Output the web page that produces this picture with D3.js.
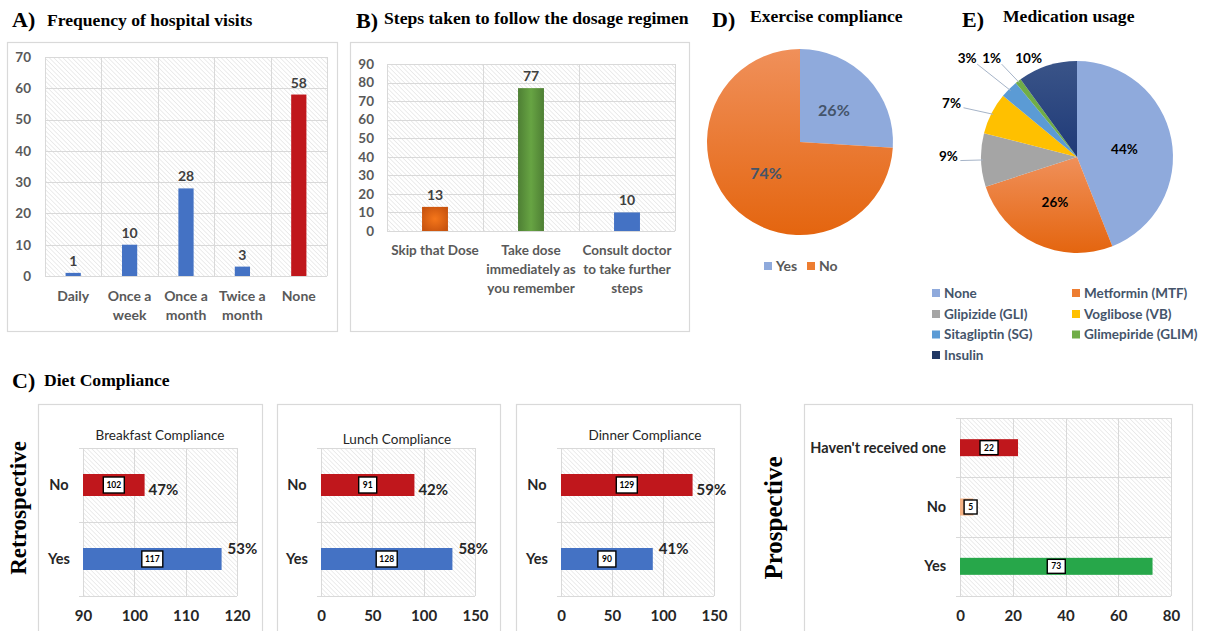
<!DOCTYPE html>
<html><head><meta charset="utf-8">
<script src="https://cdn.jsdelivr.net/npm/d3@7"></script>
<style>
html,body{margin:0;padding:0;background:#fff;}
svg{display:block;}
</style></head>
<body>
<svg id="chart" width="1211" height="631"></svg>
<script>
// ---------------- DATA ----------------
const visitCats = ["Daily", "Once a\nweek", "Once a\nmonth", "Twice a\nmonth", "None"];
const visitVals = [1, 10, 28, 3, 58];
const visitTicks = [0, 10, 20, 30, 40, 50, 60, 70];

const stepCats = ["Skip that Dose", "Take dose\nimmediately as\nyou remember", "Consult doctor\nto take further\nsteps"];
const stepVals = [13, 77, 10];
const stepTicks = [0, 10, 20, 30, 40, 50, 60, 70, 80, 90];

const exerciseCats = ["Yes", "No"];
const exerciseVals = [26, 74];

const medCats = ["None", "Metformin (MTF)", "Glipizide (GLI)", "Voglibose (VB)", "Sitagliptin (SG)", "Glimepiride (GLIM)", "Insulin"];
const medVals = [44, 26, 9, 7, 3, 1, 10];

const dietCats = ["No", "Yes"];
const breakfastVals = [102, 117];
const lunchVals = [91, 128];
const dinnerVals = [129, 90];
const breakfastTicks = [90, 100, 110, 120];
const mealTicks = [0, 50, 100, 150];

const prospCats = ["Haven't received one", "No", "Yes"];
const prospVals = [22, 5, 73];
const prospTicks = [0, 20, 40, 60, 80];

// ---------------- STYLE ----------------
const SANS = "Lato, 'Open Sans', sans-serif";
const SERIF = "'Liberation Serif', 'DejaVu Serif', serif";
const GRID = "#d9d9d9";
const FRAME = "#d9d9d9";
const BLUE = "#4472c4", RED = "#c0171c";
const TITLE_SIZE = 17.6, LETTER_SIZE = 22;

const svg = d3.select("#chart");
const defs = svg.append("defs");

// hatch pattern
const pat = defs.append("pattern").attr("id", "hatch").attr("patternUnits", "userSpaceOnUse")
  .attr("width", 3.2).attr("height", 3.2).attr("patternTransform", "rotate(-45)");
pat.append("rect").attr("width", 3.2).attr("height", 3.2).attr("fill", "#ffffff");
pat.append("line").attr("x1", 0).attr("y1", 0).attr("x2", 0).attr("y2", 3.2)
  .attr("stroke", "#e3e3e3").attr("stroke-width", 1.3);

// gradients
const gOr = defs.append("radialGradient").attr("id", "gOrange").attr("cx", "50%").attr("cy", "50%").attr("r", "60%");
gOr.append("stop").attr("offset", "0%").attr("stop-color", "#f5761a");
gOr.append("stop").attr("offset", "100%").attr("stop-color", "#c8530e");
const gGr = defs.append("linearGradient").attr("id", "gGreen").attr("x1", "0").attr("x2", "1").attr("y1", "0").attr("y2", "0");
gGr.append("stop").attr("offset", "0%").attr("stop-color", "#4e7f34");
gGr.append("stop").attr("offset", "50%").attr("stop-color", "#67a443");
gGr.append("stop").attr("offset", "100%").attr("stop-color", "#4e7f34");
const gPieOr = defs.append("linearGradient").attr("id", "gPieOrange").attr("x1", "0").attr("x2", "0").attr("y1", "0").attr("y2", "1");
gPieOr.append("stop").attr("offset", "0%").attr("stop-color", "#f0905a");
gPieOr.append("stop").attr("offset", "100%").attr("stop-color", "#e4650f");
const gNavy = defs.append("linearGradient").attr("id", "gNavy").attr("x1", "0").attr("x2", "0").attr("y1", "0").attr("y2", "1");
gNavy.append("stop").attr("offset", "0%").attr("stop-color", "#3a5488");
gNavy.append("stop").attr("offset", "100%").attr("stop-color", "#1f3a78");

function frame(x0, y0, x1, y1) {
  svg.append("rect").attr("x", x0 + 0.5).attr("y", y0 + 0.5).attr("width", x1 - x0).attr("height", y1 - y0)
    .attr("fill", "none").attr("stroke", FRAME).attr("stroke-width", 1.2);
}

function panelTitle(letter, lx, text, tx, y, ly) {
  svg.append("text").attr("x", lx).attr("y", ly || y).text(letter)
    .attr("font-family", SERIF).attr("font-weight", "bold").attr("font-size", LETTER_SIZE).attr("fill", "#000");
  svg.append("text").attr("x", tx).attr("y", y).text(text)
    .attr("font-family", SERIF).attr("font-weight", "bold").attr("font-size", TITLE_SIZE).attr("fill", "#000");
}

// ---------- vertical bar chart ----------
function columnChart(opt) {
  const g = svg.append("g");
  const x = d3.scaleBand().domain(opt.cats).range([opt.x0, opt.x1]).padding(0);
  const y = d3.scaleLinear().domain([0, d3.max(opt.ticks)]).range([opt.y1, opt.y0]);
  g.append("rect").attr("x", opt.x0).attr("y", opt.y0).attr("width", opt.x1 - opt.x0).attr("height", opt.y1 - opt.y0)
    .attr("fill", "url(#hatch)");
  g.selectAll(".hg").data(opt.ticks).join("line")
    .attr("x1", opt.x0).attr("x2", opt.x1).attr("y1", d => Math.round(y(d)) + 0.5).attr("y2", d => Math.round(y(d)) + 0.5)
    .attr("stroke", GRID).attr("stroke-width", 1);
  const edges = opt.cats.map(c => x(c)).concat([opt.x1]);
  g.selectAll(".vg").data(edges).join("line")
    .attr("x1", d => Math.round(d) + 0.5).attr("x2", d => Math.round(d) + 0.5).attr("y1", opt.y0).attr("y2", opt.y1)
    .attr("stroke", GRID).attr("stroke-width", 1);
  const ya = d3.axisLeft(y).tickValues(opt.ticks).tickSize(0).tickPadding(0);
  const yg = g.append("g").attr("transform", `translate(${opt.tickX},0)`).call(ya);
  yg.select(".domain").remove();
  yg.selectAll("text").attr("font-family", SANS).attr("font-weight", "bold").attr("font-size", opt.tickSize)
    .attr("fill", "#595959");
  const bw = x.bandwidth() * opt.barFrac;
  g.selectAll(".bar").data(opt.vals).join("rect")
    .attr("x", (d, i) => x(opt.cats[i]) + x.bandwidth() / 2 - bw / 2)
    .attr("y", d => y(d)).attr("width", bw).attr("height", d => y(0) - y(d))
    .attr("fill", (d, i) => opt.colors[i]);
  g.selectAll(".vl").data(opt.vals).join("text")
    .attr("x", (d, i) => x(opt.cats[i]) + x.bandwidth() / 2).attr("y", d => y(d) - 7)
    .attr("text-anchor", "middle").text(d => d)
    .attr("font-family", SANS).attr("font-weight", "bold").attr("font-size", opt.valSize).attr("fill", "#404040");
  opt.cats.forEach(c => {
    const lines = c.split("\n");
    const t = g.append("text").attr("text-anchor", "middle")
      .attr("font-family", SANS).attr("font-weight", "bold").attr("font-size", opt.catSize).attr("fill", "#595959");
    lines.forEach((ln, k) => {
      t.append("tspan").attr("x", x(c) + x.bandwidth() / 2).attr("y", opt.catY + k * opt.catLH).text(ln);
    });
  });
}

// ---------- A ----------
panelTitle("A)", 12, "Frequency of hospital visits", 47, 26, 27);
frame(7, 42, 337, 331);
columnChart({
  cats: visitCats, vals: visitVals, ticks: visitTicks,
  x0: 45, x1: 327, y0: 57, y1: 276, tickX: 31, tickSize: 13.5, barFrac: 0.27,
  colors: visitVals.map((d, i) => i === visitCats.length - 1 ? RED : BLUE),
  valSize: 14, catSize: 14, catY: 301, catLH: 18.5
});

// ---------- B ----------
panelTitle("B)", 356, "Steps taken to follow the dosage regimen", 384, 24, 28);
frame(350, 42, 689, 331);
columnChart({
  cats: stepCats, vals: stepVals, ticks: stepTicks,
  x0: 387, x1: 675, y0: 64, y1: 231, tickX: 374, tickSize: 13.5, barFrac: 0.27,
  colors: ["url(#gOrange)", "url(#gGreen)", BLUE],
  valSize: 14, catSize: 13.5, catY: 255, catLH: 19
});

// ---------- D: exercise pie ----------
panelTitle("D)", 712, "Exercise compliance", 750, 22, 27);
(function () {
  const cx = 800, cy = 142, r = 93;
  const g = svg.append("g").attr("transform", `translate(${cx},${cy})`);
  const pie = d3.pie().sort(null).value(d => d)(exerciseVals);
  const arc = d3.arc().innerRadius(0).outerRadius(r);
  const colors = ["#8faadc", "url(#gPieOrange)"];
  g.selectAll("path").data(pie).join("path").attr("d", arc).attr("fill", (d, i) => colors[i]);
  g.selectAll(".pl").data(pie).join("text")
    .attr("transform", d => `translate(${arc.centroid(d)})`).attr("dy", "0.35em")
    .attr("text-anchor", "middle").text(d => d.data + "%")
    .attr("font-family", SANS).attr("font-weight", "bold").attr("font-size", 16).attr("fill", "#44546a");
  const lx = [764, 807];
  exerciseCats.forEach((c, i) => {
    svg.append("rect").attr("x", lx[i]).attr("y", 262).attr("width", 8).attr("height", 8).attr("fill", i === 0 ? "#8faadc" : "#ed7d31");
    svg.append("text").attr("x", lx[i] + 12).attr("y", 266).attr("dy", "0.35em").text(c)
      .attr("font-family", SANS).attr("font-weight", "bold").attr("font-size", 14).attr("fill", "#595959");
  });
})();

// ---------- E: medication pie ----------
panelTitle("E)", 962, "Medication usage", 1003, 22, 27);
(function () {
  const cx = 1077, cy = 157, r = 96;
  const g = svg.append("g").attr("transform", `translate(${cx},${cy})`);
  const pie = d3.pie().sort(null).value(d => d)(medVals);
  const arc = d3.arc().innerRadius(0).outerRadius(r);
  const colors = ["#8faadc", "url(#gPieOrange)", "#a5a5a5", "#ffc000", "#5b9bd5", "#70ad47", "url(#gNavy)"];
  const legendColors = ["#8faadc", "#ed7d31", "#a5a5a5", "#ffc000", "#5b9bd5", "#70ad47", "#203864"];
  g.selectAll("path").data(pie).join("path").attr("d", arc).attr("fill", (d, i) => colors[i]);
  // label placement (layout): [angle offset deg, radius factor, leader line?]
  const place = [[2, 0.5, false], [1, 0.52, false], [2, 1.34, true], [-4, 1.42, true], [-3, 1.54, true], [-3, 1.36, true], [-8, 1.15, false]];
  pie.forEach((d, i) => {
    const mid = (d.startAngle + d.endAngle) / 2;
    const a = mid + place[i][0] * Math.PI / 180;
    const rr = r * place[i][1];
    const lx = Math.sin(a) * rr, ly = -Math.cos(a) * rr;
    if (place[i][2]) {
      const ex = Math.sin(mid) * r * 0.98, ey = -Math.cos(mid) * r * 0.98;
      const sx = lx + (i <= 3 ? 12 : 10), sy = ly + (i <= 3 ? 4 : 6);
      g.append("polyline").attr("points", `${sx},${sy} ${ex},${ey}`).attr("fill", "none")
        .attr("stroke", "#a6b4c8").attr("stroke-width", 1);
    }
    g.append("text").attr("x", lx).attr("y", ly).attr("dy", "0.35em").attr("text-anchor", "middle")
      .text(d.data + "%").attr("font-family", SANS).attr("font-weight", "bold").attr("font-size", 13.5).attr("fill", "#000");
  });
  const colX = [932, 1072], rowY = [293, 314, 334.5, 355];
  medCats.forEach((c, i) => {
    const lx = colX[i % 2], ly = rowY[Math.floor(i / 2)];
    svg.append("rect").attr("x", lx).attr("y", ly - 4).attr("width", 8).attr("height", 8).attr("fill", legendColors[i]);
    svg.append("text").attr("x", lx + 12).attr("y", ly).attr("dy", "0.35em").text(c)
      .attr("font-family", SANS).attr("font-weight", "bold").attr("font-size", 13.5).attr("fill", "#44546a");
  });
})();

// ---------- C: horizontal bar charts ----------
panelTitle("C)", 12, "Diet Compliance", 44, 386, 388);

function hbarChart(opt) {
  const g = svg.append("g");
  frame(opt.fx0, 404, opt.fx1, 640);
  const x = d3.scaleLinear().domain([opt.ticks[0], opt.ticks[opt.ticks.length - 1]]).range([opt.x0, opt.x1]);
  const y = d3.scaleBand().domain(opt.cats).range([opt.y0, opt.y1]).padding(0);
  g.append("rect").attr("x", opt.x0).attr("y", opt.y0).attr("width", opt.x1 - opt.x0).attr("height", opt.y1 - opt.y0)
    .attr("fill", "url(#hatch)");
  g.selectAll(".vg").data(opt.ticks).join("line")
    .attr("x1", d => Math.round(x(d)) + 0.5).attr("x2", d => Math.round(x(d)) + 0.5).attr("y1", opt.y0).attr("y2", opt.y1)
    .attr("stroke", GRID);
  const edges = opt.cats.map(c => y(c)).concat([opt.y1]);
  g.selectAll(".hg").data(edges).join("line")
    .attr("x1", opt.x0 - 4).attr("x2", opt.x1).attr("y1", d => Math.round(d) + 0.5).attr("y2", d => Math.round(d) + 0.5)
    .attr("stroke", GRID);
  const xa = d3.axisBottom(x).tickValues(opt.ticks).tickSize(0).tickPadding(0);
  const xg = g.append("g").attr("transform", `translate(0,${opt.tickY})`).call(xa);
  xg.select(".domain").remove();
  xg.selectAll("text").attr("font-family", SANS).attr("font-weight", "bold").attr("font-size", 15).attr("fill", "#262626")
    .attr("dy", "0.35em");
  g.selectAll(".cl").data(opt.cats).join("text")
    .attr("x", opt.catX).attr("y", d => y(d) + y.bandwidth() / 2).attr("dy", "0.35em")
    .attr("text-anchor", opt.catAnchor).text(d => d)
    .attr("font-family", SANS).attr("font-weight", "bold").attr("font-size", 14.5).attr("fill", "#262626");
  const bh = opt.barH;
  const x0v = opt.ticks[0];
  g.selectAll(".bar").data(opt.vals).join("rect")
    .attr("x", x(x0v)).attr("y", (d, i) => y(opt.cats[i]) + y.bandwidth() / 2 - bh / 2)
    .attr("width", d => x(d) - x(x0v)).attr("height", bh).attr("fill", (d, i) => opt.colors[i]);
  opt.vals.forEach((d, i) => {
    const s = String(d);
    const w = s.length === 1 ? 13 : s.length === 2 ? 18 : 21;
    const cxv = (x(d) + x(x0v)) / 2 + (s.length === 1 ? 4 : 0);
    const cyv = y(opt.cats[i]) + y.bandwidth() / 2;
    g.append("rect").attr("x", cxv - w / 2).attr("y", cyv - opt.boxH / 2).attr("width", w).attr("height", opt.boxH)
      .attr("fill", "#fff").attr("stroke", "#000").attr("stroke-width", 1.4);
    g.append("text").attr("x", cxv).attr("y", cyv).attr("dy", "0.36em").attr("text-anchor", "middle").text(s)
      .attr("font-family", SANS).attr("font-weight", "bold").attr("font-size", 8.5).attr("fill", "#000");
  });
  if (opt.pct) {
    const total = d3.sum(opt.vals);
    opt.vals.forEach((d, i) => {
      const cyv = y(opt.cats[i]) + y.bandwidth() / 2;
      const isNo = opt.cats[i] === "No";
      g.append("text").attr("x", x(d) + (isNo ? 4 : 6)).attr("y", isNo ? cyv + 5 : cyv - 10).attr("dy", "0.35em")
        .text(Math.round(d / total * 100) + "%")
        .attr("font-family", SANS).attr("font-weight", "bold").attr("font-size", 15).attr("fill", "#262626");
    });
  }
  if (opt.title) {
    g.append("text").attr("x", opt.titleX).attr("y", opt.titleY).attr("text-anchor", "middle").text(opt.title)
      .attr("font-family", SANS).attr("font-size", 13.5).attr("fill", "#262626");
  }
}

hbarChart({ fx0: 38, fx1: 262, x0: 83, x1: 237, y0: 448, y1: 596, cats: dietCats, vals: breakfastVals, ticks: breakfastTicks,
  colors: [RED, BLUE], barH: 22, boxH: 16, tickY: 616, catX: 59, catAnchor: "middle", pct: true,
  title: "Breakfast Compliance", titleX: 160, titleY: 440 });
hbarChart({ fx0: 277, fx1: 500, x0: 321, x1: 475, y0: 448, y1: 596, cats: dietCats, vals: lunchVals, ticks: mealTicks,
  colors: [RED, BLUE], barH: 22, boxH: 16, tickY: 616, catX: 297, catAnchor: "middle", pct: true,
  title: "Lunch Compliance", titleX: 397, titleY: 444 });
hbarChart({ fx0: 516, fx1: 740, x0: 561, x1: 714, y0: 448, y1: 596, cats: dietCats, vals: dinnerVals, ticks: mealTicks,
  colors: [RED, BLUE], barH: 22, boxH: 16, tickY: 616, catX: 537, catAnchor: "middle", pct: true,
  title: "Dinner Compliance", titleX: 645, titleY: 440 });
hbarChart({ fx0: 804, fx1: 1192, x0: 960, x1: 1171, y0: 418, y1: 596, cats: prospCats, vals: prospVals, ticks: prospTicks,
  colors: [RED, "#f4b183", "#27a74a"], barH: 17, boxH: 14, tickY: 616, catX: 946, catAnchor: "end", pct: false });

// side labels
svg.append("text").attr("transform", "translate(26,508) rotate(-90)").attr("text-anchor", "middle").text("Retrospective")
  .attr("font-family", SERIF).attr("font-weight", "bold").attr("font-size", 23).attr("fill", "#000");
svg.append("text").attr("transform", "translate(782,518) rotate(-90)").attr("text-anchor", "middle").text("Prospective")
  .attr("font-family", SERIF).attr("font-weight", "bold").attr("font-size", 25).attr("fill", "#000");
</script>
</body></html>
